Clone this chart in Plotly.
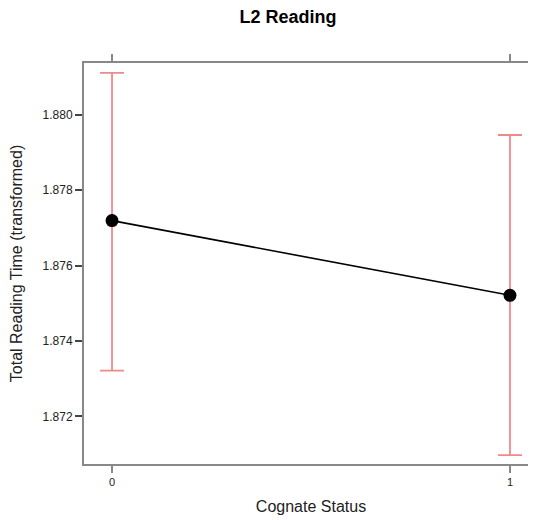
import plotly.graph_objects as go

categories = [0, 1]
tick_labels = ["0", "1"]
fit = [1.87719, 1.87521]
upper = [1.88111, 1.87946]
lower = [1.87321, 1.87097]

err_plus = [u - f for u, f in zip(upper, fit)]
err_minus = [f - l for f, l in zip(fit, lower)]

fig = go.Figure()
fig.add_trace(go.Scatter(
    x=categories, y=fit, mode="markers",
    marker=dict(size=0.1, color="rgba(0,0,0,0)"),
    error_y=dict(type="data", symmetric=False, array=err_plus, arrayminus=err_minus,
                 color="#F08A8A", thickness=1.8, width=12),
    showlegend=False, hoverinfo="skip"))
fig.add_trace(go.Scatter(
    x=categories, y=fit, mode="lines+markers",
    line=dict(color="black", width=1.6),
    marker=dict(size=13, color="black"),
    showlegend=False))

fig.update_layout(
    width=536, height=520,
    margin=dict(l=76, r=6, t=55, b=64),
    paper_bgcolor="white", plot_bgcolor="white",
    font=dict(family="Liberation Sans, Arial, sans-serif", color="#222"),
    title=dict(text="<b>L2 Reading</b>", x=280/536, xanchor="center", xref="container",
               y=1-9/520, yref="container", yanchor="middle", font=dict(size=18, color="black")),
    xaxis=dict(range=[-0.0704, 1.0704], tickvals=categories, ticktext=tick_labels,
               showgrid=False, zeroline=False, showline=True, linecolor="#888", linewidth=2,
               mirror="ticks", ticks="outside", ticklen=7, tickwidth=2, tickcolor="#888",
               tickfont=dict(size=11, color="#222"), automargin=False,
               title=dict(text="Cognate Status", font=dict(size=16, color="#222"), standoff=14)),
    yaxis=dict(range=[1.870736, 1.88137], tickvals=[1.872, 1.874, 1.876, 1.878, 1.880],
               ticktext=["1.872", "1.874", "1.876", "1.878", "1.880"],
               showgrid=False, zeroline=False, showline=True, linecolor="#888", linewidth=2,
               ticks="outside", ticklen=7, tickwidth=1.5, tickcolor="#444",
               tickfont=dict(size=12, color="#222"), automargin=False,
               title=dict(text="Total Reading Time (transformed)", font=dict(size=16, color="#222"), standoff=22)),
)

fig.write_html("out.html")
